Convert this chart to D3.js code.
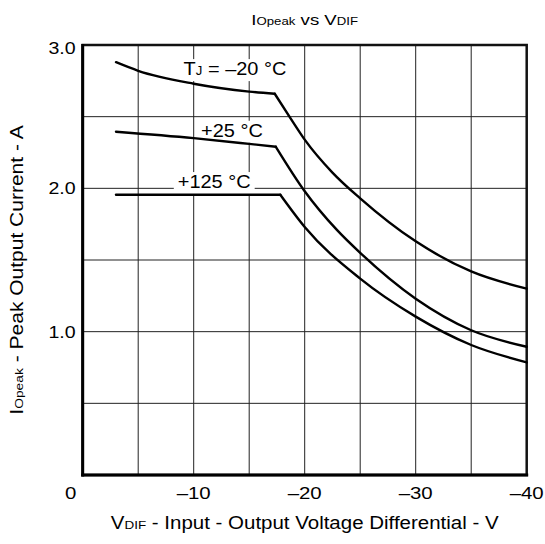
<!DOCTYPE html>
<html>
<head>
<meta charset="utf-8">
<script src="https://cdn.jsdelivr.net/npm/d3@7"></script>
<style>
  html, body { margin: 0; padding: 0; background: #fff; }
  svg { display: block; }
  text { font-family: "Liberation Sans", Arial, Helvetica, sans-serif; fill: #000; }
</style>
</head>
<body>
<svg id="chart" width="545" height="544"></svg>
<script>
// ---------- data ----------
const xTicks = [0, -10, -20, -30, -40];
const xTickLabels = ["0", "\u201310", "\u201320", "\u201330", "\u201340"];
const yTicks = [1.0, 2.0, 3.0];
const yTickLabels = ["1.0", "2.0", "3.0"];
const xGrid = [-5, -10, -15, -20, -25, -30, -35];
const yGrid = [0.5, 1.0, 1.5, 2.0, 2.5];

// T_J = -20 °C
const m20FlatV = [-3, -5, -10, -15, -17.3];
const m20FlatI = [2.88, 2.82, 2.73, 2.675, 2.66];
const m20DropV = [-17.3, -18.8, -20, -22.5, -25, -30, -35, -40];
const m20DropI = [2.66, 2.48, 2.34, 2.11, 1.93, 1.63, 1.42, 1.30];
// +25 °C
const p25FlatV = [-3, -10, -15, -17.4];
const p25FlatI = [2.395, 2.35, 2.31, 2.29];
const p25DropV = [-17.4, -20, -22.9, -25, -30, -35, -40];
const p25DropI = [2.29, 1.98, 1.71, 1.55, 1.23, 1.01, 0.895];
// +125 °C
const p125FlatV = [-3, -17.8];
const p125FlatI = [1.955, 1.955];
const p125DropV = [-17.8, -20, -25, -30, -35, -40];
const p125DropI = [1.955, 1.73, 1.37, 1.105, 0.907, 0.786];

const seriesLabels = [
  { main: "T", sub: "J", rest: " = \u201320 \u00b0C", v: -13.72, i: 2.79 },
  { main: "+25 \u00b0C", sub: "", rest: "", v: -13.45, i: 2.36 },
  { main: "+125 \u00b0C", sub: "", rest: "", v: -11.85, i: 2.002 }
];

// ---------- layout ----------
const W = 545, H = 544;
const L = 82.7, R = 526.7, T = 45, B = 475;

const svg = d3.select("#chart");
const x = d3.scaleLinear().domain([0, -40]).range([L, R]);
const y = d3.scaleLinear().domain([0, 3]).range([B, T]);

function stretch(sel, k) {
  sel.each(function () {
    const w = this.getComputedTextLength();
    this.setAttribute("textLength", w * k);
    this.setAttribute("lengthAdjust", "spacingAndGlyphs");
  });
}

// grid
svg.append("g").selectAll("line").data(xGrid).join("line")
  .attr("x1", d => x(d)).attr("x2", d => x(d))
  .attr("y1", T).attr("y2", B)
  .attr("stroke", "#222").attr("stroke-width", 1);
svg.append("g").selectAll("line").data(yGrid).join("line")
  .attr("x1", L).attr("x2", R)
  .attr("y1", d => y(d)).attr("y2", d => y(d))
  .attr("stroke", "#222").attr("stroke-width", 1);

// curve label backgrounds + labels
const labG = svg.append("g");
seriesLabels.forEach(s => {
  const t = labG.append("text")
    .attr("x", x(s.v)).attr("y", y(s.i))
    .attr("text-anchor", "middle")
    .attr("font-size", 19);
  t.append("tspan").text(s.main);
  if (s.sub) t.append("tspan").attr("font-size", 12.5).text(s.sub);
  if (s.rest) t.append("tspan").text(s.rest);
  stretch(t, 1.05);
  const bb = t.node().getBBox();
  labG.insert("rect", "text")
    .attr("x", bb.x - 4).attr("y", bb.y + 1)
    .attr("width", bb.width + 8).attr("height", bb.height + 1)
    .attr("fill", "#fff");
});

// frame
svg.append("rect")
  .attr("x", L).attr("y", T).attr("width", R - L).attr("height", B - T)
  .attr("fill", "none").attr("stroke", "#111").attr("stroke-width", 2.5);
svg.append("line").attr("x1", L).attr("x2", L).attr("y1", T - 1).attr("y2", B + 1.5)
  .attr("stroke", "#000").attr("stroke-width", 3);
svg.append("line").attr("x1", L - 1.5).attr("x2", R + 1.5).attr("y1", B).attr("y2", B)
  .attr("stroke", "#000").attr("stroke-width", 3);

// curves
const line = d3.line().x(d => x(d[0])).y(d => y(d[1])).curve(d3.curveMonotoneX);
const curves = [
  [m20FlatV, m20FlatI], [m20DropV, m20DropI],
  [p25FlatV, p25FlatI], [p25DropV, p25DropI],
  [p125FlatV, p125FlatI], [p125DropV, p125DropI]
];
svg.append("g").selectAll("path").data(curves).join("path")
  .attr("d", c => line(c[0].map((v, k) => [v, c[1][k]])))
  .attr("fill", "none").attr("stroke", "#000")
  .attr("stroke-width", 2.4).attr("stroke-linecap", "round").attr("stroke-linejoin", "round");

// x tick labels
svg.append("g").selectAll("text").data(xTicks).join("text")
  .attr("x", d => x(d) + (d === 0 ? -12 : 0))
  .attr("y", B + 24)
  .attr("text-anchor", "middle")
  .attr("font-size", 17)
  .text((d, k) => xTickLabels[k])
  .call(stretch, 1.2);

// y tick labels
svg.append("g").selectAll("text").data(yTicks).join("text")
  .attr("x", L - 7)
  .attr("y", d => y(d) + (d === 3 ? 8.5 : 6))
  .attr("text-anchor", "end")
  .attr("font-size", 17)
  .text((d, k) => yTickLabels[k])
  .call(stretch, 1.15);

// title
const title = svg.append("text").attr("x", (L + R) / 2).attr("y", 25)
  .attr("text-anchor", "middle").attr("font-size", 15.5);
title.append("tspan").text("I");
title.append("tspan").attr("font-size", 11).text("Opeak");
title.append("tspan").text(" vs V");
title.append("tspan").attr("font-size", 11).text("DIF");
stretch(title, 1.2);

// x axis title
const xt = svg.append("text").attr("x", (L + R) / 2).attr("y", 529)
  .attr("text-anchor", "middle").attr("font-size", 17.5);
xt.append("tspan").text("V");
xt.append("tspan").attr("font-size", 11.5).text("DIF");
xt.append("tspan").text(" - Input - Output Voltage Differential - V");
stretch(xt, 1.17);

// y axis title
const yt = svg.append("text")
  .attr("transform", "translate(23,270) rotate(-90)")
  .attr("text-anchor", "middle").attr("font-size", 17.5);
yt.append("tspan").text("I");
yt.append("tspan").attr("font-size", 11.5).text("Opeak");
yt.append("tspan").text(" - Peak Output Current - A");
stretch(yt, 1.2);
</script>
</body>
</html>
